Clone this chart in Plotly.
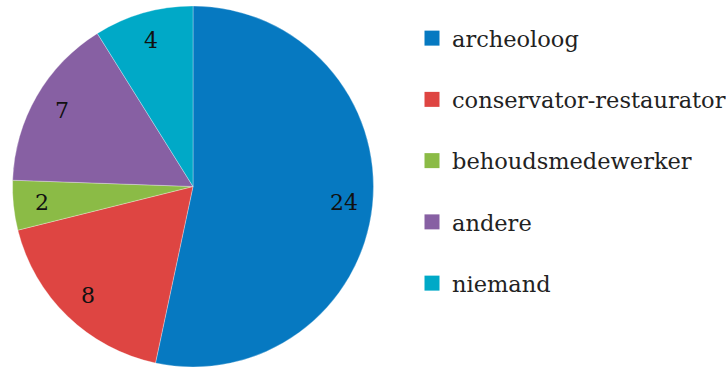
import math
import plotly.graph_objects as go

# Who carries out the work
categories = ["archeoloog", "conservator-restaurator", "behoudsmedewerker", "andere", "niemand"]
counts = [24, 8, 2, 7, 4]
colors = ["#0679C1", "#DE4542", "#8BBB46", "#8760A3", "#00A9C7"]

FONT = "DejaVu Serif"
W, H = 726, 367
TOP = 6
PIE_X = [0, 386 / W]

fig = go.Figure()

fig.add_trace(go.Pie(
    labels=categories,
    values=counts,
    sort=False,
    direction="clockwise",
    rotation=0,
    marker=dict(colors=colors, line=dict(color="rgba(255,255,255,0.6)", width=0.5)),
    textinfo="none",
    domain=dict(x=PIE_X, y=[0, 1]),
    showlegend=False,
    hoverinfo="label+value",
))

# Value labels placed along each slice's mid-angle, near the rim
plot_h = H - TOP
radius = plot_h / 2
cx = (PIE_X[0] + PIE_X[1]) / 2 * W
cy = TOP + radius
total = sum(counts)
label_r = 0.84 * radius
cum = 0
for v in counts:
    mid = (cum + v / 2) / total * 2 * math.pi
    cum += v
    px = cx + label_r * math.sin(mid)
    py = cy - label_r * math.cos(mid)
    fig.add_annotation(
        x=px / W, y=(H - py) / plot_h,
        xref="paper", yref="paper",
        text=str(v), showarrow=False,
        xanchor="center", yanchor="middle",
        font=dict(family=FONT, size=22, color="#111111"),
    )

# Legend entries: one square-marker item per category
for name, col in zip(categories, colors):
    fig.add_trace(go.Scatter(
        x=[None], y=[None],
        mode="markers",
        name=name,
        legendgroup=name,
        marker=dict(symbol="square", size=15, color=col),
        showlegend=True,
    ))

fig.update_layout(
    width=W,
    height=H,
    margin=dict(l=0, r=0, t=TOP, b=0, autoexpand=False),
    paper_bgcolor="white",
    plot_bgcolor="white",
    xaxis=dict(visible=False),
    yaxis=dict(visible=False),
    legend=dict(
        x=412 / W, xanchor="left",
        y=(H - 161) / plot_h, yanchor="middle",
        font=dict(family=FONT, size=22.5, color="#222222"),
        tracegroupgap=29,
        itemclick=False,
    ),
)

fig.write_html("out.html")
